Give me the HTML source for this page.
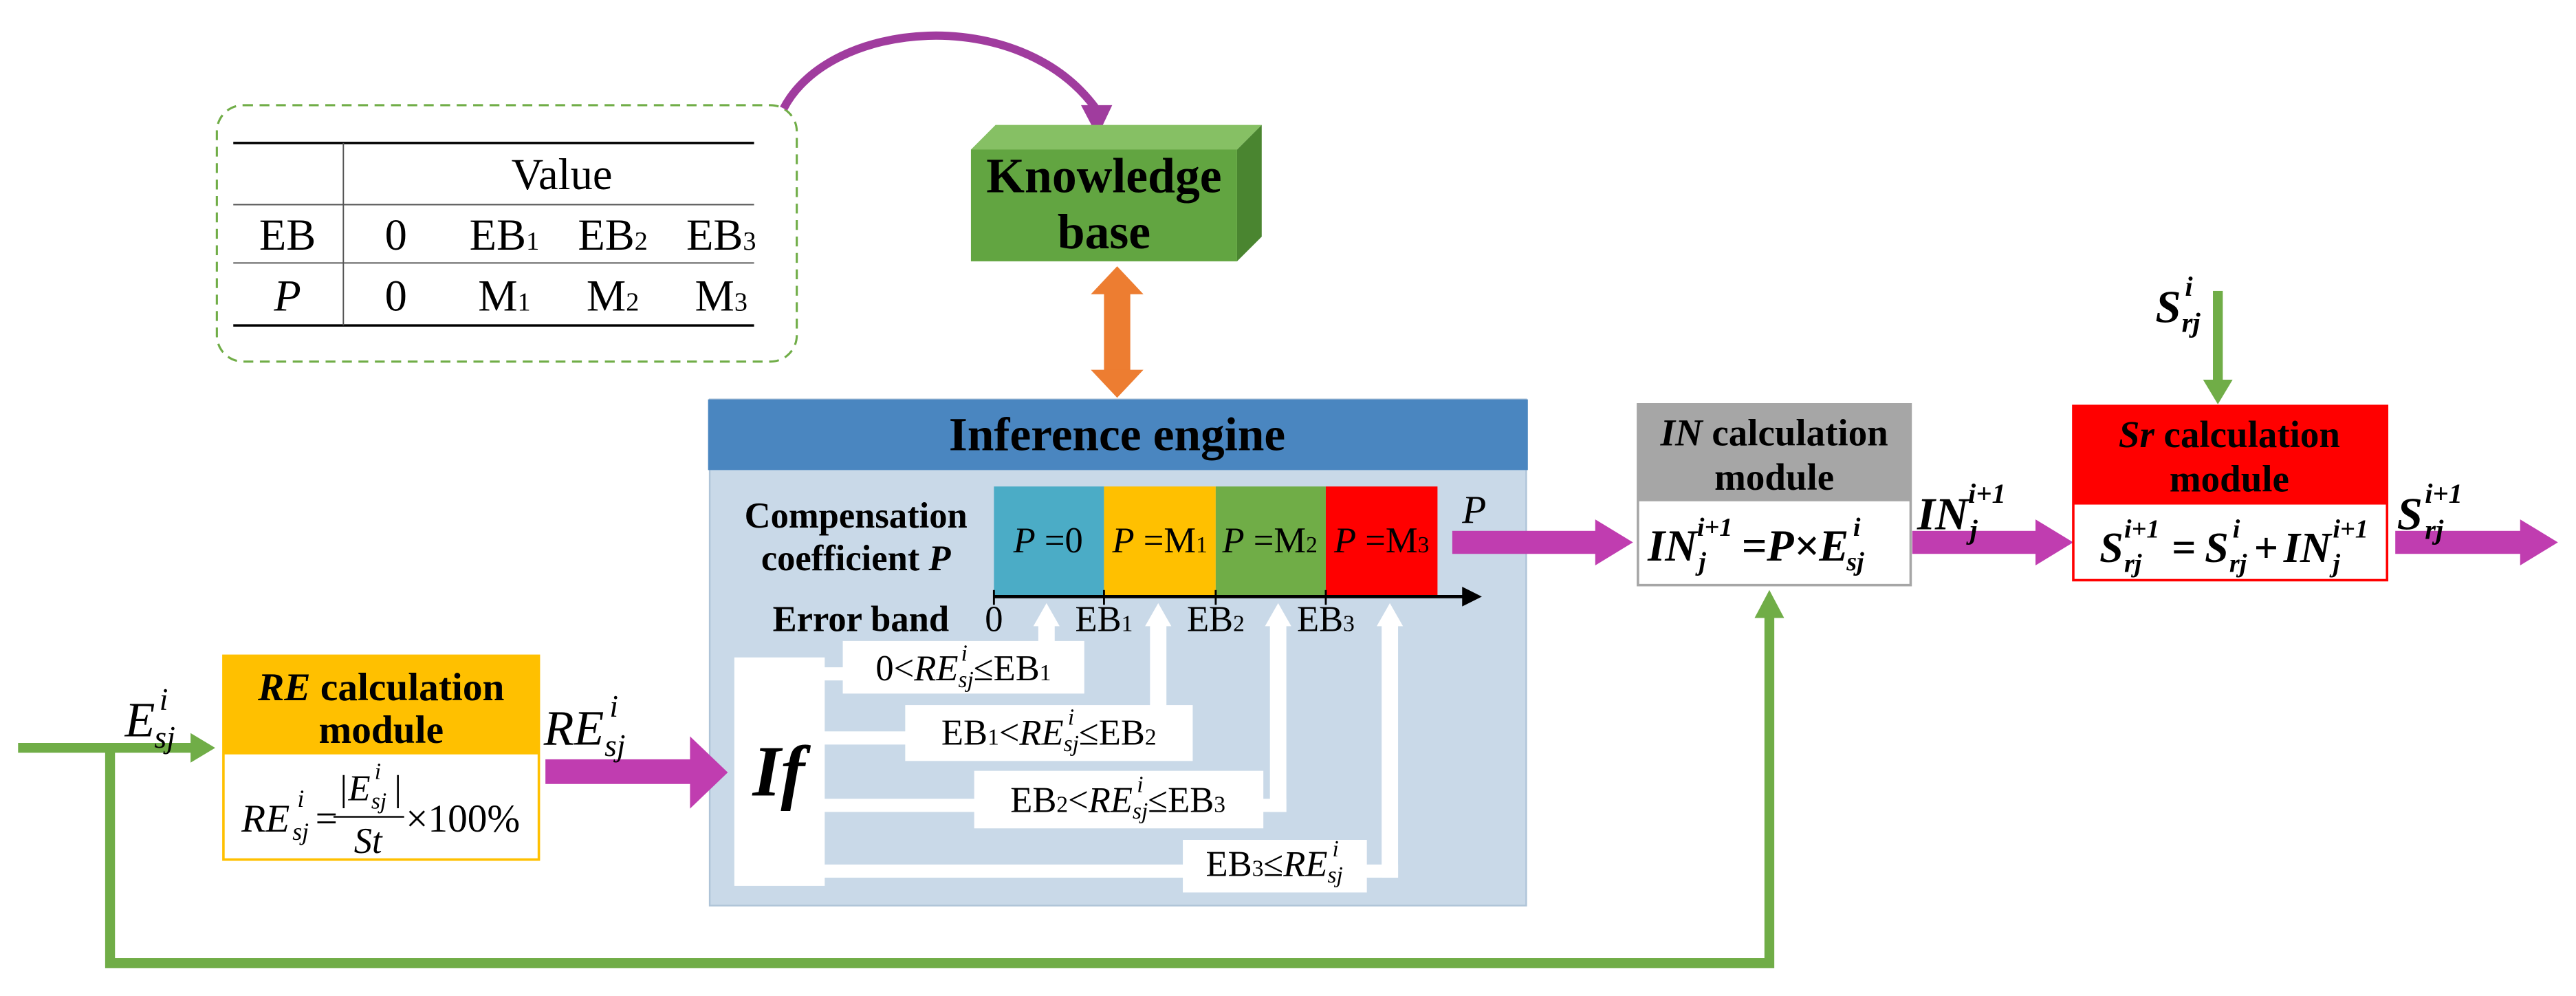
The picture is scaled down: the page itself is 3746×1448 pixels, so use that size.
<!DOCTYPE html>
<html><head><meta charset="utf-8"><style>
html,body{margin:0;padding:0;background:#fff;}
svg{display:block;}
text{font-family:"Liberation Serif",serif;}
</style></head><body>
<svg width="3746" height="1448" viewBox="0 0 1568 606" preserveAspectRatio="none" xmlns="http://www.w3.org/2000/svg">
<defs>
<marker id="ah" markerWidth="6" markerHeight="6" refX="5" refY="3" orient="auto"><path d="M0,0 L6,3 L0,6 z" fill="#000"/></marker>
</defs>
<!-- dashed table box -->
<rect x="132" y="64" width="353" height="156" rx="16" fill="none" stroke="#70AD47" stroke-width="1.3" stroke-dasharray="6,4"/>
<line x1="142" y1="87" x2="459" y2="87" stroke="#000" stroke-width="1.5"/>
<line x1="142" y1="124.5" x2="459" y2="124.5" stroke="#555" stroke-width="0.8"/>
<line x1="142" y1="160" x2="459" y2="160" stroke="#555" stroke-width="0.8"/>
<line x1="142" y1="198" x2="459" y2="198" stroke="#000" stroke-width="1.5"/>
<line x1="209" y1="87" x2="209" y2="198" stroke="#555" stroke-width="0.8"/>
<g font-size="27" text-anchor="middle" fill="#000">
<text x="342" y="115">Value</text>
<text x="175" y="152">EB</text><text x="241" y="152">0</text>
<text x="307" y="152">EB<tspan font-size="16">1</tspan></text>
<text x="373" y="152">EB<tspan font-size="16">2</tspan></text>
<text x="439" y="152">EB<tspan font-size="16">3</tspan></text>
<text x="175" y="189" font-style="italic">P</text><text x="241" y="189">0</text>
<text x="307" y="189">M<tspan font-size="16">1</tspan></text>
<text x="373" y="189">M<tspan font-size="16">2</tspan></text>
<text x="439" y="189">M<tspan font-size="16">3</tspan></text>
</g>
<!-- curved purple arrow -->
<path d="M477,66 C505,12 620,2 667,66" fill="none" stroke="#A03C9E" stroke-width="5"/>
<polygon points="658,64 677,64 668,83" fill="#A03C9E"/>
<!-- knowledge base cube -->
<polygon points="591,91 606,76 768,76 753,91" fill="#86C064"/>
<polygon points="753,91 768,76 768,144 753,159" fill="#4A8530"/>
<rect x="591" y="91" width="162" height="68" fill="#62A541"/>
<text x="672" y="117" font-size="30" font-weight="bold" text-anchor="middle">Knowledge</text>
<text x="672" y="151" font-size="30" font-weight="bold" text-anchor="middle">base</text>
<!-- orange double arrow -->
<rect x="672" y="177" width="16" height="50" fill="#ED7D31"/>
<polygon points="664,179 680,162 696,179" fill="#ED7D31"/>
<polygon points="664,225 680,242 696,225" fill="#ED7D31"/>
<!-- inference engine -->
<rect x="432" y="243" width="497" height="308" fill="#C9D9E8" stroke="#AFC4D8"/>
<rect x="431" y="243" width="499" height="43" fill="#4A86C0"/>
<text x="680" y="274" font-size="29" font-weight="bold" text-anchor="middle">Inference engine</text>
<rect x="605" y="296" width="67" height="67" fill="#4BACC6"/>
<rect x="672" y="296" width="68" height="67" fill="#FFC000"/>
<rect x="740" y="296" width="67" height="67" fill="#70AD47"/>
<rect x="807" y="296" width="68" height="67" fill="#FF0000"/>
<g font-size="22" text-anchor="middle">
<text x="638" y="336"><tspan font-style="italic">P</tspan> =0</text>
<text x="706" y="336"><tspan font-style="italic">P</tspan> =M<tspan font-size="14">1</tspan></text>
<text x="773" y="336"><tspan font-style="italic">P</tspan> =M<tspan font-size="14">2</tspan></text>
<text x="841" y="336"><tspan font-style="italic">P</tspan> =M<tspan font-size="14">3</tspan></text>
</g>
<line x1="605" y1="363" x2="900" y2="363" stroke="#000" stroke-width="2" marker-end="url(#ah)"/>
<g stroke="#000" stroke-width="1.2"><line x1="605" y1="359" x2="605" y2="368"/><line x1="672" y1="359" x2="672" y2="368"/><line x1="740" y1="359" x2="740" y2="368"/><line x1="807" y1="359" x2="807" y2="368"/></g>
<g font-size="22" font-weight="bold" text-anchor="middle">
<text x="521" y="321">Compensation</text>
<text x="521" y="347">coefficient <tspan font-style="italic">P</tspan></text>
<text x="524" y="384">Error band</text>
</g>
<g font-size="22" text-anchor="middle">
<text x="605" y="384">0</text><text x="672" y="384">EB<tspan font-size="14">1</tspan></text>
<text x="740" y="384">EB<tspan font-size="14">2</tspan></text><text x="807" y="384">EB<tspan font-size="14">3</tspan></text>
</g>
<text x="890" y="318" font-size="24" font-style="italic">P</text>
<!-- If block and connectors -->
<rect x="447" y="400" width="55" height="139" fill="#fff"/>
<text x="474" y="484" font-size="44" font-style="italic" font-weight="bold" text-anchor="middle">If</text>
<g fill="#fff">
<rect x="500" y="406" width="142" height="8"/><rect x="632" y="378" width="10" height="36"/><polygon points="629,381 637,367 645,381"/>
<rect x="500" y="445" width="210" height="8"/><rect x="700" y="378" width="10" height="75"/><polygon points="697,381 705,367 713,381"/>
<rect x="500" y="486" width="283" height="8"/><rect x="773" y="378" width="10" height="116"/><polygon points="770,381 778,367 786,381"/>
<rect x="500" y="526" width="351" height="8"/><rect x="841" y="378" width="10" height="156"/><polygon points="838,381 846,367 854,381"/>
<rect x="513" y="390" width="147" height="32"/>
<rect x="551" y="429" width="175" height="34"/>
<rect x="593" y="469" width="176" height="35"/>
<rect x="720" y="511" width="112" height="32"/>
</g>
<g font-size="22">
<text x="533" y="414">0&lt;<tspan font-style="italic">RE</tspan><tspan font-size="14" font-style="italic" dy="4">sj</tspan><tspan dy="-4">≤EB</tspan><tspan font-size="14">1</tspan></text>
<text x="585" y="402" font-size="14" font-style="italic">i</text>
<text x="573" y="453">EB<tspan font-size="14">1</tspan>&lt;<tspan font-style="italic">RE</tspan><tspan font-size="14" font-style="italic" dy="4">sj</tspan><tspan dy="-4">≤EB</tspan><tspan font-size="14">2</tspan></text>
<text x="650" y="441" font-size="14" font-style="italic">i</text>
<text x="615" y="494">EB<tspan font-size="14">2</tspan>&lt;<tspan font-style="italic">RE</tspan><tspan font-size="14" font-style="italic" dy="4">sj</tspan><tspan dy="-4">≤EB</tspan><tspan font-size="14">3</tspan></text>
<text x="692" y="482" font-size="14" font-style="italic">i</text>
<text x="734" y="533">EB<tspan font-size="14">3</tspan>≤<tspan font-style="italic">RE</tspan><tspan font-size="14" font-style="italic" dy="4">sj</tspan></text>
<text x="811" y="521" font-size="14" font-style="italic">i</text>
</g>
<!-- RE module -->
<rect x="136" y="399" width="192" height="124" fill="#fff" stroke="#FFC000" stroke-width="1.5"/>
<rect x="136" y="399" width="192" height="60" fill="#FFC000"/>
<text x="232" y="426" font-size="24" font-weight="bold" text-anchor="middle"><tspan font-style="italic">RE</tspan> calculation</text>
<text x="232" y="452" font-size="24" font-weight="bold" text-anchor="middle">module</text>
<g font-style="italic">
<text x="147" y="506" font-size="24">RE</text>
<text x="178" y="511" font-size="15">sj</text>
<text x="181" y="491" font-size="15">i</text>
<text x="192" y="506" font-size="24" font-style="normal">=</text>
<text x="207" y="487" font-size="22" font-style="normal">|</text>
<text x="212" y="487" font-size="22">E</text>
<text x="226" y="492" font-size="14">sj</text>
<text x="228" y="474" font-size="14">i</text>
<text x="240" y="487" font-size="22" font-style="normal">|</text>
<text x="224" y="519" font-size="22" text-anchor="middle">St</text>
<text x="247" y="506" font-size="24" font-style="normal">×100%</text>
</g>
<line x1="203" y1="497" x2="246" y2="497" stroke="#000" stroke-width="1"/>
<!-- green input & feedback -->
<path d="M11,455 H118" stroke="#70AD47" stroke-width="6" fill="none"/>
<polygon points="116,446 131,455 116,464" fill="#70AD47"/>
<path d="M67,455 V586 H1077 V374" stroke="#70AD47" stroke-width="6" fill="none"/>
<polygon points="1068,376 1077,359 1086,376" fill="#70AD47"/>
<text x="76" y="448" font-size="30" font-style="italic">E</text>
<text x="94" y="455" font-size="19" font-style="italic">sj</text>
<text x="97" y="432" font-size="19" font-style="italic">i</text>
<!-- purple arrows -->
<rect x="332" y="462" width="92" height="15" fill="#C03DB0"/><polygon points="420,448 443,470 420,492" fill="#C03DB0"/>
<text x="331" y="453" font-size="30" font-style="italic">RE</text>
<text x="368" y="460" font-size="19" font-style="italic">sj</text>
<text x="371" y="436" font-size="19" font-style="italic">i</text>
<rect x="884" y="323" width="90" height="14" fill="#C03DB0"/><polygon points="971,316 994,330 971,344" fill="#C03DB0"/>
<rect x="1164" y="323" width="78" height="14" fill="#C03DB0"/><polygon points="1239,316 1262,330 1239,344" fill="#C03DB0"/>
<rect x="1458" y="323" width="78" height="14" fill="#C03DB0"/><polygon points="1534,316 1557,330 1534,344" fill="#C03DB0"/>
<!-- IN module -->
<rect x="997" y="246" width="166" height="110" fill="#fff" stroke="#A6A6A6" stroke-width="1.5"/>
<rect x="997" y="246" width="166" height="59" fill="#A6A6A6"/>
<text x="1080" y="271" font-size="23" font-weight="bold" text-anchor="middle"><tspan font-style="italic">IN</tspan> calculation</text>
<text x="1080" y="298" font-size="23" font-weight="bold" text-anchor="middle">module</text>
<g font-style="italic" font-weight="bold">
<text x="1003" y="341" font-size="27">IN</text>
<text x="1034" y="347" font-size="16">j</text>
<text x="1033" y="326" font-size="16">i+1</text>
<text x="1060" y="341" font-size="27">=P×E</text>
<text x="1124" y="347" font-size="16">sj</text>
<text x="1128" y="326" font-size="16">i</text>
<text x="1167" y="322" font-size="28">IN</text>
<text x="1199" y="328" font-size="17">j</text>
<text x="1198" y="306" font-size="17">i+1</text>
</g>
<!-- Sr module -->
<rect x="1262" y="247" width="191" height="106" fill="#fff" stroke="#FF0000" stroke-width="1.5"/>
<rect x="1262" y="247" width="191" height="60" fill="#FF0000"/>
<text x="1357" y="272" font-size="23" font-weight="bold" text-anchor="middle"><tspan font-style="italic">Sr</tspan> calculation</text>
<text x="1357" y="299" font-size="23" font-weight="bold" text-anchor="middle">module</text>
<g font-style="italic" font-weight="bold">
<text x="1278" y="342" font-size="26">S</text>
<text x="1293" y="348" font-size="16">rj</text>
<text x="1293" y="327" font-size="16">i+1</text>
<text x="1322" y="342" font-size="26" font-style="normal">=</text>
<text x="1342" y="342" font-size="26">S</text>
<text x="1357" y="348" font-size="16">rj</text>
<text x="1359" y="327" font-size="16">i</text>
<text x="1372" y="342" font-size="26" font-style="normal">+</text>
<text x="1390" y="342" font-size="26">IN</text>
<text x="1420" y="348" font-size="16">j</text>
<text x="1420" y="327" font-size="16">i+1</text>
<text x="1459" y="322" font-size="28">S</text>
<text x="1476" y="328" font-size="17">rj</text>
<text x="1476" y="306" font-size="17">i+1</text>
<text x="1312" y="196" font-size="28">S</text>
<text x="1328" y="202" font-size="17">rj</text>
<text x="1330" y="180" font-size="17">i</text>
</g>
<!-- Srj input -->
<rect x="1347" y="177" width="6" height="56" fill="#70AD47"/><polygon points="1341,231 1350,246 1359,231" fill="#70AD47"/>
</svg>
</body></html>
